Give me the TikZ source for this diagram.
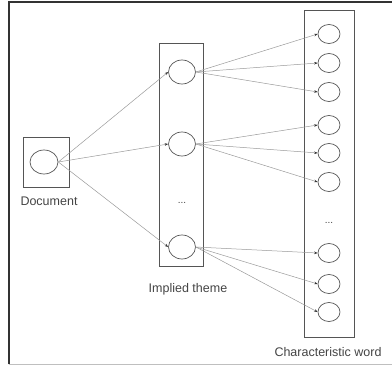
\documentclass[tikz,border=0pt]{standalone}
\usepackage{fontspec}
\setmainfont{Liberation Sans}
\usetikzlibrary{arrows.meta,shapes.geometric}
\definecolor{boxgray}{HTML}{555555}
\definecolor{edgegray}{HTML}{9A9A9A}
\definecolor{textgray}{HTML}{444444}
\tikzset{
  unit/.style={ellipse, draw=boxgray, line width=0.7pt, inner sep=0pt},
  docunit/.style={unit, minimum width=28pt, minimum height=24pt},
  themeunit/.style={unit, minimum width=27pt, minimum height=24pt},
  wordunit/.style={unit, minimum width=22pt, minimum height=19pt},
  layer/.style={draw=boxgray, line width=0.8pt},
  caption/.style={text=textgray, font=\fontsize{12.5}{14}\selectfont},
  link/.style={draw=edgegray, line width=0.5pt,
    -{Stealth[length=3.5pt,width=2.6pt,fill=black!80,color=black!80]}}
}
\begin{document}
\begin{tikzpicture}[x=1pt,y=-1pt]
\useasboundingbox (0,0) rectangle (392,369);

% Outer frame
\draw [line width=1.3pt, draw=black!80] (9,364.5) -- (9,2) -- (392,2);%
\draw [line width=0.8pt, draw=black!25] (9,364.5) -- (392,364.5);%

% Layer boxes
\draw [layer] (23,137) rectangle (69,187);%
\draw [layer] (159,43) rectangle (203,266);%
\draw [layer] (304,10) rectangle (354,337);%

% Document
\node [docunit] (d) at (44,162) {};%
\node [caption] (dlabel) at (49,201) {Document};%

% Implied theme
\node [themeunit] (t1) at (182,72) {};%
\node [themeunit] (t2) at (182,144) {};%
\node [themeunit] (t3) at (182,247) {};%
\node [text=textgray] (tdots) at (182,203) {...};%
\node [caption] (tlabel) at (188,289) {Implied theme};%

% Characteristic word
\node [wordunit] (w1) at (329,34) {};%
\node [wordunit] (w2) at (329,63) {};%
\node [wordunit] (w3) at (329,92) {};%
\node [wordunit] (w4) at (329,125) {};%
\node [wordunit] (w5) at (329,153) {};%
\node [wordunit] (w6) at (329,182) {};%
\node [wordunit] (w7) at (329,253) {};%
\node [wordunit] (w8) at (329,284) {};%
\node [wordunit] (w9) at (329,312) {};%
\node [text=textgray] (wdots) at (329,223) {...};%
\node [caption] (wlabel) at (328,352) {Characteristic word};%

% Document to themes
\foreach \t in {t1,t2,t3}
  \draw [link] (d.east) -- (\t.west);%

% Themes to words
\foreach \t/\w in {t1/w1,t1/w2,t1/w3,t2/w4,t2/w5,t2/w6,t3/w7,t3/w8,t3/w9}
  \draw [link] (\t.east) -- (\w.west);%

\end{tikzpicture}
\end{document}
